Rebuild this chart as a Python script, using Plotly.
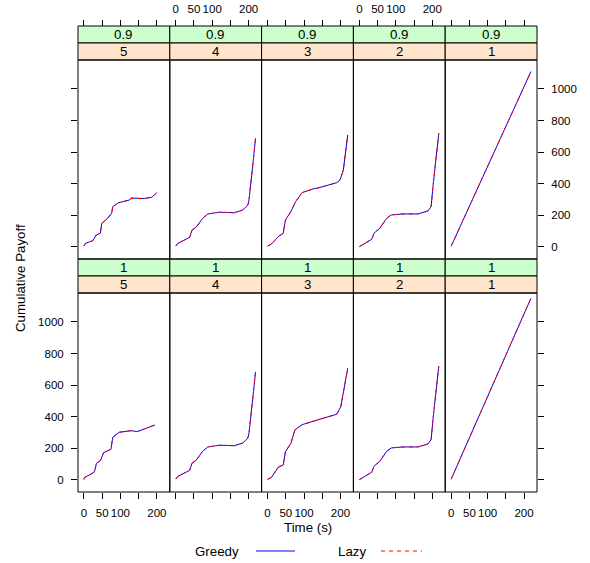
import plotly.graph_objects as go

# ---------------- data ----------------
panel_levels = ["5", "4", "3", "2", "1"]          # inner strip (orange)
outer_levels = ["0.9", "1"]                        # outer strip (green), top row / bottom row

x_tick_vals = [0, 50, 100, 150, 200]
x_tick_text = ["0", "50", "100", "", "200"]
y_tick_vals = [0, 200, 400, 600, 800, 1000]
y_tick_text = ["0", "200", "400", "600", "800", "1000"]

# row 0.9
time_09_5 = [0, 4, 24, 34, 45, 49, 65, 76, 79, 95, 125, 129, 166, 186, 200]
pay_09_5 = [6, 23, 40, 76, 87, 150, 182, 213, 255, 280, 297, 310, 306, 315, 344]
time_09_4 = [0, 6, 38, 45, 56, 74, 88, 120, 161, 184, 198, 201, 210, 219]
pay_09_4 = [6, 23, 61, 108, 125, 182, 209, 220, 217, 234, 266, 297, 487, 688]
time_09_3 = [0, 11, 29, 43, 49, 64, 77, 95, 130, 135, 190, 199, 208, 220]
pay_09_3 = [6, 19, 65, 87, 171, 224, 287, 344, 371, 371, 407, 424, 487, 709]
time_09_2 = [0, 34, 40, 56, 75, 88, 120, 161, 188, 197, 202, 218]
pay_09_2 = [2, 49, 87, 118, 182, 203, 209, 209, 228, 255, 382, 720]
time_09_1 = [0, 219]
pay_09_1 = [5, 1110]

# row 1
time_1_5 = [0, 2, 20, 29, 34, 45, 54, 74, 79, 97, 129, 146, 195]
pay_1_5 = [4, 17, 38, 53, 105, 122, 173, 194, 270, 302, 312, 306, 348]
time_1_4 = [0, 6, 38, 45, 56, 74, 88, 120, 161, 184, 198, 201, 210, 219]
pay_1_4 = [6, 23, 61, 108, 125, 182, 209, 220, 217, 234, 266, 297, 487, 684]
time_1_3 = [0, 11, 29, 43, 49, 64, 75, 95, 130, 190, 201, 220]
pay_1_3 = [4, 17, 80, 95, 179, 232, 317, 350, 375, 416, 464, 707]
time_1_2 = [0, 34, 40, 56, 75, 88, 120, 161, 188, 197, 202, 218]
pay_1_2 = [2, 49, 87, 118, 182, 203, 209, 209, 228, 255, 382, 720]
time_1_1 = [0, 219]
pay_1_1 = [5, 1150]

# Lazy lies on top of Greedy
rows_time = [[time_09_5, time_09_4, time_09_3, time_09_2, time_09_1],
             [time_1_5, time_1_4, time_1_3, time_1_2, time_1_1]]
rows_greedy = [[pay_09_5, pay_09_4, pay_09_3, pay_09_2, pay_09_1],
               [pay_1_5, pay_1_4, pay_1_3, pay_1_2, pay_1_1]]
rows_lazy = rows_greedy

# ---------------- layout geometry (pixels) ----------------
W, H = 590, 563
FONT = "Liberation Sans, Arial, Helvetica, sans-serif"
TICK_FS = 11.5
BASE_FS = 13.3

col_left0, col_w = 78.0, 91.8
panel_rows = [(60.0, 259.0), (293.0, 492.0)]      # top, bottom pixel y
strip_rows = [(26.0, 43.0, 60.0), (259.0, 276.0, 293.0)]
x_range = [-16.4, 235.6]
y_range = [-76, 1183]


def fx(p):
    return p / W


def fy(p):
    return 1 - p / H


fig = go.Figure()
shapes = []
annotations = []
layout = {}

k = 0
for r in range(2):
    for c in range(5):
        k += 1
        xa = "x" if k == 1 else f"x{k}"
        ya = "y" if k == 1 else f"y{k}"
        xkey = "xaxis" if k == 1 else f"xaxis{k}"
        ykey = "yaxis" if k == 1 else f"yaxis{k}"
        left = col_left0 + col_w * c
        right = left + col_w
        top, bot = panel_rows[r]

        fig.add_trace(go.Scatter(x=rows_time[r][c], y=rows_greedy[r][c], mode="lines",
                                 line=dict(color="#0000FF", width=1),
                                 xaxis=xa, yaxis=ya, showlegend=False, hoverinfo="skip"))
        fig.add_trace(go.Scatter(x=rows_time[r][c], y=rows_lazy[r][c], mode="lines",
                                 line=dict(color="#FF0000", width=1, dash="4px,4px"),
                                 xaxis=xa, yaxis=ya, showlegend=False, hoverinfo="skip"))

        xcfg = dict(domain=[fx(left), fx(right)], range=x_range, showgrid=False,
                    zeroline=False, showline=False, tickvals=x_tick_vals, ticktext=x_tick_text,
                    tickfont=dict(family=FONT, size=TICK_FS, color="black"),
                    tickcolor="black", ticklen=6, tickwidth=1, fixedrange=True)
        if r == 0:
            xcfg.update(anchor="free", position=fy(strip_rows[0][0]), side="top",
                        ticks="outside", showticklabels=(c in (1, 3)), ticklabelstandoff=2)
        else:
            xcfg.update(anchor=ya, side="bottom", ticks="outside",
                        showticklabels=(c in (0, 2, 4)), ticklabelstandoff=4)
        layout[xkey] = xcfg

        ycfg = dict(domain=[fy(bot), fy(top)], range=y_range, anchor=xa, showgrid=False,
                    zeroline=False, showline=False, tickvals=y_tick_vals, ticktext=y_tick_text,
                    tickfont=dict(family=FONT, size=TICK_FS, color="black"),
                    tickcolor="black", ticklen=6, tickwidth=1, fixedrange=True)
        if c == 0:
            ycfg.update(side="left", ticks="outside", showticklabels=(r == 1), ticklabelstandoff=5)
        elif c == 4:
            ycfg.update(side="right", ticks="outside", showticklabels=(r == 0), ticklabelstandoff=5)
        else:
            ycfg.update(ticks="", showticklabels=False)
        layout[ykey] = ycfg

        # panel border
        shapes.append(dict(type="rect", xref="paper", yref="paper",
                           x0=fx(left), x1=fx(right), y0=fy(bot), y1=fy(top),
                           line=dict(color="black", width=1), fillcolor="rgba(0,0,0,0)"))
        # strips
        s0, s1, s2 = strip_rows[r]
        shapes.append(dict(type="rect", xref="paper", yref="paper",
                           x0=fx(left), x1=fx(right), y0=fy(s1), y1=fy(s0),
                           line=dict(color="black", width=1), fillcolor="#CCFFCC", layer="below"))
        shapes.append(dict(type="rect", xref="paper", yref="paper",
                           x0=fx(left), x1=fx(right), y0=fy(s2), y1=fy(s1),
                           line=dict(color="black", width=1), fillcolor="#FFE5CC", layer="below"))
        annotations.append(dict(text=outer_levels[r], xref="paper", yref="paper",
                                x=fx((left + right) / 2), y=fy((s0 + s1) / 2),
                                showarrow=False, xanchor="center", yanchor="middle",
                                font=dict(family=FONT, size=BASE_FS, color="black")))
        annotations.append(dict(text=panel_levels[c], xref="paper", yref="paper",
                                x=fx((left + right) / 2), y=fy((s1 + s2) / 2),
                                showarrow=False, xanchor="center", yanchor="middle",
                                font=dict(family=FONT, size=BASE_FS, color="black")))

# axis titles
annotations.append(dict(text="Time (s)", xref="paper", yref="paper", x=fx(307.5), y=fy(527),
                        showarrow=False, xanchor="center", yanchor="middle",
                        font=dict(family=FONT, size=BASE_FS, color="black")))
annotations.append(dict(text="Cumulative Payoff", xref="paper", yref="paper", x=fx(20), y=fy(278),
                        showarrow=False, xanchor="center", yanchor="middle", textangle=-90,
                        font=dict(family=FONT, size=BASE_FS, color="black")))

# key (legend)
annotations.append(dict(text="Greedy", xref="paper", yref="paper", x=fx(217), y=fy(551),
                        showarrow=False, xanchor="center", yanchor="middle",
                        font=dict(family=FONT, size=BASE_FS, color="black")))
annotations.append(dict(text="Lazy", xref="paper", yref="paper", x=fx(352), y=fy(551),
                        showarrow=False, xanchor="center", yanchor="middle",
                        font=dict(family=FONT, size=BASE_FS, color="black")))
shapes.append(dict(type="line", xref="paper", yref="paper", x0=fx(256), x1=fx(295),
                   y0=fy(551), y1=fy(551), line=dict(color="#0000FF", width=1)))
shapes.append(dict(type="line", xref="paper", yref="paper", x0=fx(381), x1=fx(422),
                   y0=fy(551), y1=fy(551), line=dict(color="#FF0000", width=1, dash="4px,4px")))

fig.update_layout(width=W, height=H, autosize=False,
                  margin=dict(l=0, r=0, t=0, b=0),
                  paper_bgcolor="white", plot_bgcolor="rgba(0,0,0,0)",
                  shapes=shapes, annotations=annotations, showlegend=False, **layout)

fig.write_html("out.html", config={"displayModeBar": False},
               post_script="document.body.style.margin='0';document.body.style.padding='0';")
